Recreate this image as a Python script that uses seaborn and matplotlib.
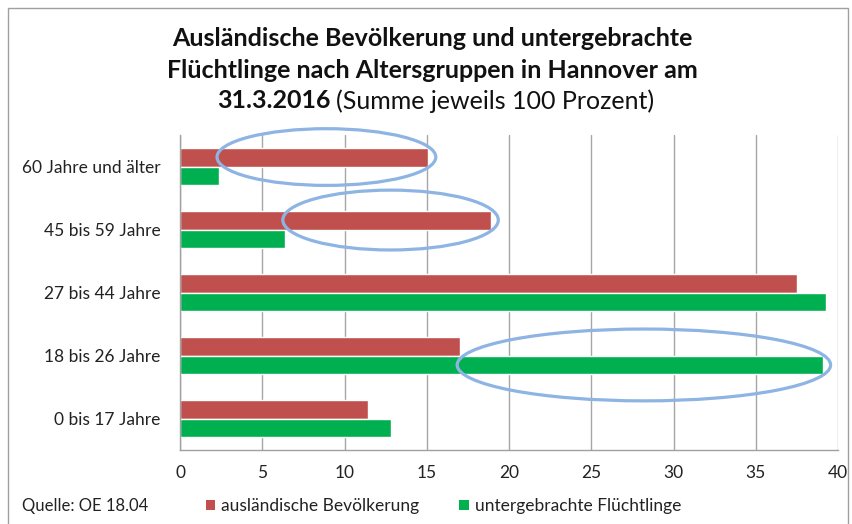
import pandas as pd
import matplotlib.pyplot as plt
import seaborn as sns
from matplotlib.patches import Ellipse, Patch, Rectangle

# Data (percent of each group)
age_groups = ["60 Jahre und älter", "45 bis 59 Jahre", "27 bis 44 Jahre",
              "18 bis 26 Jahre", "0 bis 17 Jahre"]
auslaender = [15.1, 18.9, 37.5, 17.0, 11.4]
fluechtlinge = [2.4, 6.4, 39.3, 39.1, 12.8]
series_names = ["ausländische Bevölkerung", "untergebrachte Flüchtlinge"]
series_colors = ["#C0504D", "#00B050"]
x_ticks = [0, 5, 10, 15, 20, 25, 30, 35, 40]

# highlighted bars: (age group, series index)
highlights = [("60 Jahre und älter", 0), ("45 bis 59 Jahre", 0), ("18 bis 26 Jahre", 1)]

df = pd.DataFrame({
    "Altersgruppe": age_groups * 2,
    "Prozent": auslaender + fluechtlinge,
    "Gruppe": [series_names[0]] * len(age_groups) + [series_names[1]] * len(age_groups),
})

sns.set_style("white")
plt.rcParams["font.family"] = ["Lato", "DejaVu Sans"]

fig = plt.figure(figsize=(8.52, 5.24), dpi=100)
ax = fig.add_axes([180 / 852, 1 - 450 / 524, 658 / 852, 315 / 524])

sns.barplot(data=df, y="Altersgruppe", x="Prozent", hue="Gruppe",
            order=age_groups, hue_order=series_names, palette=series_colors,
            width=0.6, orient="h", saturation=1, legend=False, ax=ax)

ax.set_xlim(0, 40)
ax.set_ylim(4.5, -0.5)
ax.set_xticks(x_ticks)
ax.set_xlabel("")
ax.set_ylabel("")
ax.xaxis.grid(True, color="#A6A6A6", linewidth=1)
ax.set_axisbelow(True)
for s in ["top", "right"]:
    ax.spines[s].set_visible(False)
for s in ["left", "bottom"]:
    ax.spines[s].set_color("#A0A0A0")
    ax.spines[s].set_linewidth(1)
ax.tick_params(axis="x", length=5, color="#A0A0A0", labelsize=12.5, pad=6, labelcolor="#222222")
ax.tick_params(axis="y", which="major", length=0, labelsize=12.5, pad=14, labelcolor="#222222")
ax.set_yticks([i + 0.5 for i in range(-1, len(age_groups))], minor=True)
ax.tick_params(axis="y", which="minor", length=5, color="#A0A0A0")

# blue ellipses around the highlighted bars
vals = [auslaender, fluechtlinge]
offsets = [-0.15, 0.15]
heights = [0.9, 0.95, 1.14]
for (grp, si), h in zip(highlights, heights):
    i = age_groups.index(grp)
    right = vals[si][i] + 0.45
    left = vals[1 - si][i] - 0.15
    ax.add_patch(Ellipse(((left + right) / 2, i + offsets[si]), right - left, h,
                         fill=False, edgecolor="#8DB4E3", linewidth=2.3, clip_on=False, zorder=5))

# title
fig.text(0.508, 1 - 38 / 524, "Ausländische Bevölkerung und untergebrachte",
         ha="center", va="center", fontsize=18, fontweight="bold", color="#111111")
fig.text(0.508, 1 - 71 / 524, "Flüchtlinge nach Altersgruppen in Hannover am",
         ha="center", va="center", fontsize=18, fontweight="bold", color="#111111")
fig.text(331 / 852, 1 - 101 / 524, "31.3.2016", ha="right", va="center",
         fontsize=18, fontweight="bold", color="#111111")
fig.text(336 / 852, 1 - 101 / 524, "(Summe jeweils 100 Prozent)", ha="left", va="center",
         fontsize=18, color="#111111")

# source and legend
fig.text(22 / 852, 1 - 506 / 524, "Quelle: OE 18.04", ha="left", va="center",
         fontsize=12, color="#222222")
handles = [Patch(facecolor=c, edgecolor="none") for c in series_colors]
fig.legend(handles, series_names, loc="center left", bbox_to_anchor=(190 / 852, 1 - 506 / 524),
           ncol=2, frameon=False, fontsize=12.5, handlelength=0.55, handleheight=0.55,
           handletextpad=0.35, columnspacing=2.3, labelcolor="#222222")

# outer chart border
fig.patches.append(Rectangle((8 / 852, -0.01), 840 / 852, 1 - 8 / 524 + 0.01,
                             transform=fig.transFigure, fill=False,
                             edgecolor="#A0A0A0", linewidth=1))

fig.savefig("out.png", dpi=100)
